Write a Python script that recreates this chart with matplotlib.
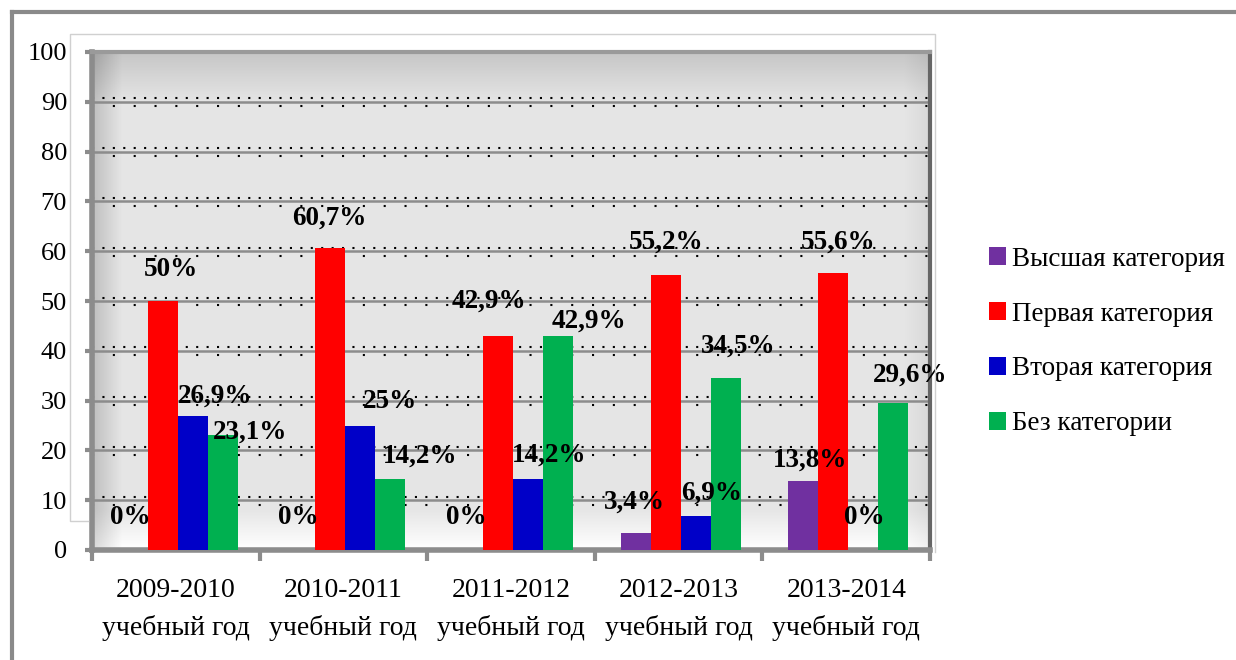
import numpy as np
import matplotlib
matplotlib.use('Agg')
import matplotlib.pyplot as plt
from matplotlib.lines import Line2D
from matplotlib.patches import Patch

years = ['2009-2010\nучебный год', '2010-2011\nучебный год', '2011-2012\nучебный год',
         '2012-2013\nучебный год', '2013-2014\nучебный год']
series_names = ['Высшая категория', 'Первая категория', 'Вторая категория', 'Без категории']
vysshaya = [0, 0, 0, 3.4, 13.8]
pervaya = [50, 60.7, 42.9, 55.2, 55.6]
vtoraya = [26.9, 25, 14.2, 6.9, 0]
bez = [23.1, 14.2, 42.9, 34.5, 29.6]
labels_vysshaya = ['0%', '0%', '0%', '3,4%', '13,8%']
labels_pervaya = ['50%', '60,7%', '42,9%', '55,2%', '55,6%']
labels_vtoraya = ['26,9%', '25%', '14,2%', '6,9%', '0%']
labels_bez = ['23,1%', '14,2%', '42,9%', '34,5%', '29,6%']

colors = ['#7030A0', '#FF0000', '#0000C8', '#00B050']

# label nudges (pixels, relative to top centre of the bar)
label_dx = [[-2, -2, -2, -1, 7], [8, -1, -9, 1, 5], [22, 30, 21, 16, 1], [27, 30, 31, 13, 17]]
label_dy = [[32, 32, 32, 31, 21], [31, 30, 35, 33, 31], [20, 24, 24, 22, 32], [3, 23, 15, 32, 27]]

serif = ['Liberation Serif', 'DejaVu Serif']
plt.rcParams['font.family'] = serif

W, H = 1236, 660
fig = plt.figure(figsize=(W / 100, H / 100), dpi=100)
fig.patch.set_facecolor('white')

# outer frame of the picture
fig.add_artist(Line2D([12 / W, 12 / W], [0, 1 - 12 / H], transform=fig.transFigure, color='#8a8a8a', lw=3))
fig.add_artist(Line2D([12 / W, 1], [1 - 12 / H, 1 - 12 / H], transform=fig.transFigure, color='#8a8a8a', lw=3))
# thin chart-area box
fig.add_artist(Line2D([88 / W, 70 / W, 70 / W, 935 / W, 935 / W], [1 - 521 / H, 1 - 521 / H, 1 - 34 / H, 1 - 34 / H, 1 - 552 / H],
                      transform=fig.transFigure, color='#d0d0d0', lw=1))

ax = fig.add_axes([92 / W, 1 - 550 / H, (930 - 92) / W, (550 - 52) / H])

# bevelled back wall
ny, nx = 200, 400
yy = np.linspace(0, 1, ny)[:, None]
xx = np.linspace(0, 1, nx)[None, :]
base = np.full((ny, nx), 0.90)
top = np.clip((yy - 0.90) / 0.10, 0, 1)
left = np.clip((0.035 - xx) / 0.035, 0, 1)
right = np.clip((xx - 0.97) / 0.03, 0, 1)
floor = np.clip((0.08 - yy) / 0.08, 0, 1)
wall = base - 0.12 * top - 0.15 * left - 0.05 * right + 0.10 * floor
wall = np.clip(wall, 0, 1)
ax.imshow(np.dstack([wall] * 3), extent=(-0.5, 4.5, 0, 100), origin='lower', aspect='auto', zorder=0)

ax.set_xlim(-0.5, 4.5)
ax.set_ylim(0, 100)

# grid: solid grey line with dotted rows around it
for v in range(10, 100, 10):
    ax.axhline(v, color='#8c8c8c', lw=1.8, zorder=1)
    ax.axhline(v + 0.7, color='black', lw=1.5, ls=(0, (1, 4)), zorder=1)
    ax.axhline(v - 0.9, color='black', lw=1.5, ls=(0, (1, 9)), zorder=1)

x = np.arange(len(years))
width = 0.179
all_values = [vysshaya, pervaya, vtoraya, bez]
all_labels = [labels_vysshaya, labels_pervaya, labels_vtoraya, labels_bez]
for i, (vals, labs) in enumerate(zip(all_values, all_labels)):
    pos = x + 0.012 + (i - 1.5) * width
    ax.bar(pos, vals, width, color=colors[i], zorder=3, label=series_names[i])
    for j in range(len(years)):
        ax.annotate(labs[j], (pos[j], vals[j]), xytext=(label_dx[i][j], label_dy[i][j]),
                    textcoords='offset pixels', ha='center', va='center',
                    fontsize=19.5, fontweight='bold', family=serif, zorder=5)

for side in ['left', 'bottom']:
    ax.spines[side].set_color('#8c8c8c')
    ax.spines[side].set_linewidth(4)
ax.spines['top'].set_color('#9a9a9a')
ax.spines['top'].set_linewidth(3)
ax.spines['right'].set_color('#666666')
ax.spines['right'].set_linewidth(3)

ax.set_yticks(range(0, 101, 10))
ax.set_yticklabels([str(v) for v in range(0, 101, 10)], family=serif, fontsize=19)
ax.tick_params(axis='y', length=5, width=3, color='#8c8c8c', pad=13)
ax.set_xticks(np.arange(-0.5, 5, 1))
ax.set_xticklabels([])
ax.tick_params(axis='x', length=8, width=3, color='#8c8c8c')
ax.set_xticks(x, minor=True)
ax.set_xticklabels(years, minor=True, fontsize=20, linespacing=1.6, family=serif)
ax.tick_params(axis='x', which='minor', length=0, pad=20)

handles = [Patch(facecolor=c) for c in colors]
fig.legend(handles, series_names, loc='upper left', bbox_to_anchor=(978 / W, 1 - 236 / H),
           frameon=False, prop={'family': serif, 'size': 19.5}, handlelength=0.65, handleheight=0.65,
           handletextpad=0.2, labelspacing=1.1, borderaxespad=0)

fig.savefig('out.png', dpi=100)
